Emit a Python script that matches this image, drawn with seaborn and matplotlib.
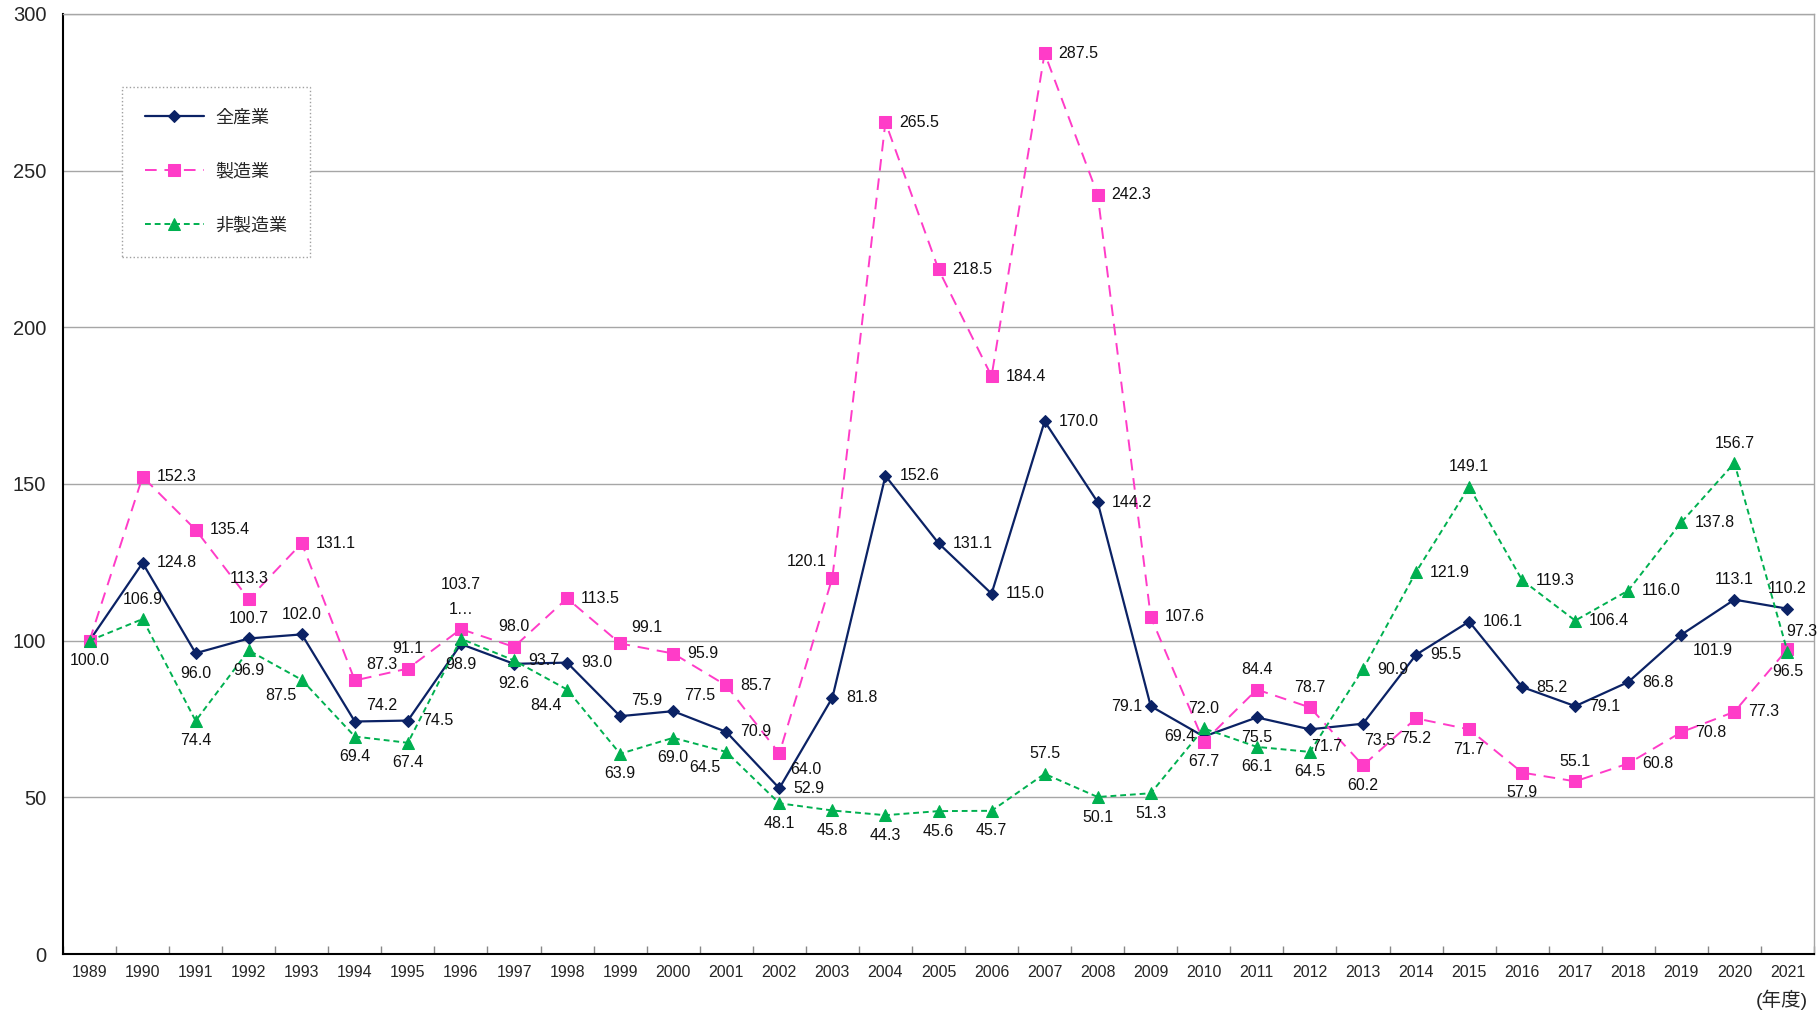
import numpy as np
import pandas as pd
import seaborn as sns
import matplotlib
matplotlib.use("Agg")
import matplotlib.pyplot as plt
from matplotlib.ticker import FixedLocator

years = [str(y) for y in range(1989, 2022)]

all_ind = [100.0, 124.8, 96.0, 100.7, 102.0, 74.2, 74.5, 98.9, 92.6, 93.0, 75.9, 77.5, 70.9, 52.9,
           81.8, 152.6, 131.1, 115.0, 170.0, 144.2, 79.1, 69.4, 75.5, 71.7, 73.5, 95.5, 106.1,
           85.2, 79.1, 86.8, 101.9, 113.1, 110.2]
manuf = [100.0, 152.3, 135.4, 113.3, 131.1, 87.3, 91.1, 103.7, 98.0, 113.5, 99.1, 95.9, 85.7, 64.0,
         120.1, 265.5, 218.5, 184.4, 287.5, 242.3, 107.6, 67.7, 84.4, 78.7, 60.2, 75.2, 71.7,
         57.9, 55.1, 60.8, 70.8, 77.3, 97.3]
nonmanuf = [100.0, 106.9, 74.4, 96.9, 87.5, 69.4, 67.4, 100.6, 93.7, 84.4, 63.9, 69.0, 64.5, 48.1,
            45.8, 44.3, 45.6, 45.7, 57.5, 50.1, 51.3, 72.0, 66.1, 64.5, 90.9, 121.9, 149.1,
            119.3, 106.4, 116.0, 137.8, 156.7, 96.5]

series_names = ["全産業", "製造業", "非製造業"]
colors = ["#0B2265", "#FF3CC8", "#00B050"]
markers = ["D", "s", "^"]
msizes = [6, 8.5, 8.5]

# label placement codes (style)
pos_all = ["b", "r", "b", "a", "a", "ar", "r", "b", "b", "r", "ar", "ar", "r", "r", "r", "r", "r",
           "r", "r", "r", "l", "l", "b", "br0", "br0", "r", "r", "r", "r", "r", "br", "a", "a"]
pos_man = [None, "r", "r", "a", "r", "ar", "a", "aa", "a", "r", "ar", "r", "r", "br", "al", "r", "r",
           "r", "r", "r", "r", "b", "a", "a", "b", "b", "b", "b", "a", "r", "r", "r", "ar0"]
pos_non = [None, "a", "b", "b", "bl", "b", "b", "a2", "r", "bl", "b", "b", "bl", "b", "b", "b", "b",
           "b", "a", "b", "b", "a", "b", "b", "r", "r", "a", "r", "r", "r", "r", "a", "b"]

offsets = {
    "r": (10, 0, "left", "center"),
    "l": (-6, 0, "right", "center"),
    "a": (0, 9, "center", "bottom"),
    "a2": (0, 16, "center", "bottom"),
    "aa": (0, 27, "center", "bottom"),
    "b": (0, -9, "center", "top"),
    "ar": (8, 6, "left", "bottom"),
    "ar0": (-1, 7, "left", "bottom"),
    "al": (-4, 6, "right", "bottom"),
    "br": (8, -6, "left", "top"),
    "br0": (1, -7, "left", "top"),
    "bl": (-4, -6, "right", "top"),
}

sns.set_theme(style="white")
plt.rcParams["font.family"] = ["Liberation Sans", "Noto Sans CJK JP", "DejaVu Sans"]

df = pd.DataFrame({"x": np.arange(len(years)), "全産業": all_ind, "製造業": manuf, "非製造業": nonmanuf})

fig = plt.figure(figsize=(18.2, 10.18), dpi=100)
ax = fig.add_axes([63 / 1820, 1 - 954 / 1018, (1814 - 63) / 1820, (954 - 14) / 1018])

dashes = [None, (6, 4), (3, 2)]
for name, c, m, ms, d in zip(series_names, colors, markers, msizes, dashes):
    sns.lineplot(data=df, x="x", y=name, ax=ax, color=c, marker=m, markersize=ms,
                 markeredgecolor=c, linewidth=1.6 if d is None else 1.4, label=name, zorder=3)
    line = ax.lines[-1]
    if d is not None:
        line.set_dashes(d)

for vals in (all_ind, manuf, nonmanuf):
    poss = pos_all if vals is all_ind else (pos_man if vals is manuf else pos_non)
    for i, (v, p) in enumerate(zip(vals, poss)):
        if p is None:
            continue
        dx, dy, ha, va = offsets[p]
        txt = f"{v:.1f}"
        if vals is nonmanuf and i == 7:
            txt = "1…"
        ax.annotate(txt, (i, v), xytext=(dx, dy), textcoords="offset points",
                    ha=ha, va=va, fontsize=11.5, color="#111111", zorder=5,
                    annotation_clip=False)

ax.set_xlim(-0.5, len(years) - 0.5)
ax.set_ylim(0, 300)
ax.set_yticks(np.arange(0, 301, 50))
ax.set_yticklabels([str(v) for v in range(0, 301, 50)], fontsize=14.5)
ax.set_xticks(np.arange(len(years)))
ax.set_xticklabels(years, fontsize=11.5)
ax.xaxis.set_minor_locator(FixedLocator(np.arange(-0.5, len(years), 1.0)))
ax.tick_params(axis="x", which="major", length=0, pad=8)
ax.tick_params(axis="x", which="minor", direction="in", length=6, color="#888888", bottom=True)
ax.tick_params(axis="y", length=0, pad=12)
ax.set_xlabel("")
ax.set_ylabel("")

ax.yaxis.grid(True, color="#A6A6A6", linewidth=1.0)
ax.set_axisbelow(True)
for s in ["top", "right"]:
    ax.spines[s].set_color("#A6A6A6")
    ax.spines[s].set_linewidth(1.0)
for s in ["left", "bottom"]:
    ax.spines[s].set_color("black")
    ax.spines[s].set_linewidth(1.5)

leg = ax.legend(loc="upper left", frameon=True, fancybox=False,
                fontsize=13, handlelength=3.3, labelspacing=2.05, borderpad=1.25,
                handletextpad=0.6, borderaxespad=0)
leg.set_bbox_to_anchor((122 / 1820, 1 - 87 / 1018), transform=fig.transFigure)
fr = leg.get_frame()
fr.set_edgecolor("#A0A0A0")
fr.set_linestyle(":")
fr.set_linewidth(1.0)
fr.set_facecolor("white")
fr.set_alpha(1.0)
leg.set_zorder(10)

fig.text(1782 / 1820, 1 - 1000 / 1018, "(年度)", ha="center", va="center", fontsize=14)

fig.savefig("out.png", dpi=100)
